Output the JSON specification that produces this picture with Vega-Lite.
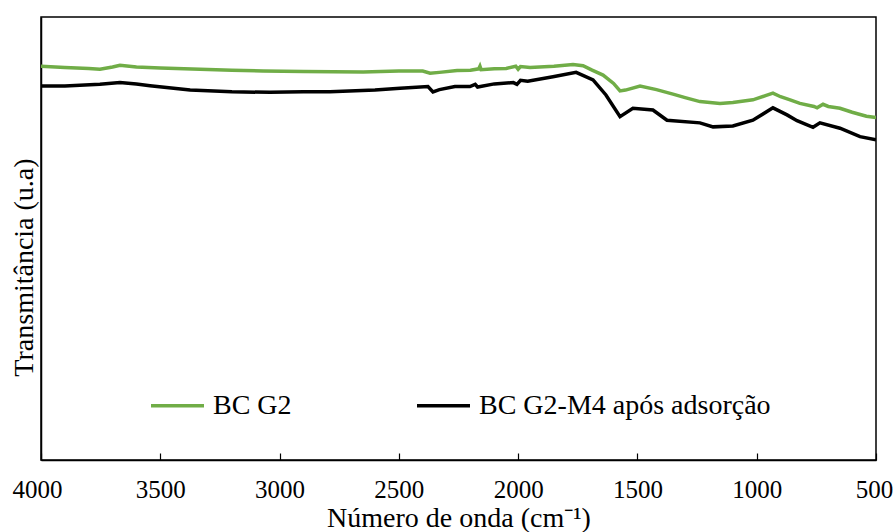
{
  "$schema": "https://vega.github.io/schema/vega-lite/v6.json",
  "width": 835,
  "height": 443,
  "autosize": "none",
  "padding": {"left": 41, "top": 17, "right": 17, "bottom": 72},
  "background": "white",
  "config": {
    "font": "'Liberation Serif', 'Times New Roman', serif",
    "view": {"stroke": "black", "strokeWidth": 1.5}
  },
  "data": {
    "values": [
      {"wn": 4000, "t": 88.9, "s": "BC G2"},
      {"wn": 3900, "t": 88.6, "s": "BC G2"},
      {"wn": 3800, "t": 88.4, "s": "BC G2"},
      {"wn": 3753, "t": 88.2, "s": "BC G2"},
      {"wn": 3700, "t": 88.7, "s": "BC G2"},
      {"wn": 3669, "t": 89.1, "s": "BC G2"},
      {"wn": 3600, "t": 88.7, "s": "BC G2"},
      {"wn": 3500, "t": 88.5, "s": "BC G2"},
      {"wn": 3400, "t": 88.3, "s": "BC G2"},
      {"wn": 3200, "t": 88.0, "s": "BC G2"},
      {"wn": 3069, "t": 87.8, "s": "BC G2"},
      {"wn": 2900, "t": 87.7, "s": "BC G2"},
      {"wn": 2650, "t": 87.6, "s": "BC G2"},
      {"wn": 2500, "t": 87.8, "s": "BC G2"},
      {"wn": 2400, "t": 87.8, "s": "BC G2"},
      {"wn": 2369, "t": 87.3, "s": "BC G2"},
      {"wn": 2330, "t": 87.5, "s": "BC G2"},
      {"wn": 2256, "t": 87.9, "s": "BC G2"},
      {"wn": 2200, "t": 88.0, "s": "BC G2"},
      {"wn": 2165, "t": 88.3, "s": "BC G2"},
      {"wn": 2160, "t": 88.9, "s": "BC G2"},
      {"wn": 2155, "t": 88.1, "s": "BC G2"},
      {"wn": 2100, "t": 88.3, "s": "BC G2"},
      {"wn": 2050, "t": 88.4, "s": "BC G2"},
      {"wn": 2010, "t": 88.9, "s": "BC G2"},
      {"wn": 2000, "t": 88.2, "s": "BC G2"},
      {"wn": 1990, "t": 88.8, "s": "BC G2"},
      {"wn": 1950, "t": 88.6, "s": "BC G2"},
      {"wn": 1850, "t": 88.9, "s": "BC G2"},
      {"wn": 1770, "t": 89.3, "s": "BC G2"},
      {"wn": 1728, "t": 89.0, "s": "BC G2"},
      {"wn": 1690, "t": 88.0, "s": "BC G2"},
      {"wn": 1644, "t": 86.9, "s": "BC G2"},
      {"wn": 1600, "t": 85.0, "s": "BC G2"},
      {"wn": 1573, "t": 83.3, "s": "BC G2"},
      {"wn": 1550, "t": 83.5, "s": "BC G2"},
      {"wn": 1489, "t": 84.4, "s": "BC G2"},
      {"wn": 1420, "t": 83.6, "s": "BC G2"},
      {"wn": 1351, "t": 82.6, "s": "BC G2"},
      {"wn": 1300, "t": 81.8, "s": "BC G2"},
      {"wn": 1238, "t": 80.9, "s": "BC G2"},
      {"wn": 1154, "t": 80.5, "s": "BC G2"},
      {"wn": 1100, "t": 80.7, "s": "BC G2"},
      {"wn": 1016, "t": 81.3, "s": "BC G2"},
      {"wn": 960, "t": 82.3, "s": "BC G2"},
      {"wn": 932, "t": 82.8, "s": "BC G2"},
      {"wn": 900, "t": 82.0, "s": "BC G2"},
      {"wn": 860, "t": 81.3, "s": "BC G2"},
      {"wn": 819, "t": 80.5, "s": "BC G2"},
      {"wn": 760, "t": 79.8, "s": "BC G2"},
      {"wn": 747, "t": 79.5, "s": "BC G2"},
      {"wn": 722, "t": 80.3, "s": "BC G2"},
      {"wn": 700, "t": 79.8, "s": "BC G2"},
      {"wn": 651, "t": 79.4, "s": "BC G2"},
      {"wn": 600, "t": 78.5, "s": "BC G2"},
      {"wn": 540, "t": 77.6, "s": "BC G2"},
      {"wn": 500, "t": 77.3, "s": "BC G2"},
      {"wn": 4000, "t": 84.4, "s": "BC G2-M4 após adsorção"},
      {"wn": 3900, "t": 84.4, "s": "BC G2-M4 após adsorção"},
      {"wn": 3753, "t": 84.8, "s": "BC G2-M4 após adsorção"},
      {"wn": 3669, "t": 85.2, "s": "BC G2-M4 após adsorção"},
      {"wn": 3600, "t": 84.9, "s": "BC G2-M4 após adsorção"},
      {"wn": 3543, "t": 84.5, "s": "BC G2-M4 após adsorção"},
      {"wn": 3375, "t": 83.5, "s": "BC G2-M4 após adsorção"},
      {"wn": 3200, "t": 83.1, "s": "BC G2-M4 após adsorção"},
      {"wn": 3040, "t": 83.0, "s": "BC G2-M4 após adsorção"},
      {"wn": 2900, "t": 83.1, "s": "BC G2-M4 após adsorção"},
      {"wn": 2789, "t": 83.1, "s": "BC G2-M4 após adsorção"},
      {"wn": 2600, "t": 83.5, "s": "BC G2-M4 após adsorção"},
      {"wn": 2495, "t": 83.9, "s": "BC G2-M4 após adsorção"},
      {"wn": 2378, "t": 84.3, "s": "BC G2-M4 após adsorção"},
      {"wn": 2357, "t": 83.1, "s": "BC G2-M4 após adsorção"},
      {"wn": 2330, "t": 83.6, "s": "BC G2-M4 após adsorção"},
      {"wn": 2265, "t": 84.3, "s": "BC G2-M4 após adsorção"},
      {"wn": 2202, "t": 84.3, "s": "BC G2-M4 após adsorção"},
      {"wn": 2180, "t": 84.8, "s": "BC G2-M4 após adsorção"},
      {"wn": 2170, "t": 84.2, "s": "BC G2-M4 após adsorção"},
      {"wn": 2100, "t": 84.9, "s": "BC G2-M4 após adsorção"},
      {"wn": 2020, "t": 85.2, "s": "BC G2-M4 após adsorção"},
      {"wn": 2005, "t": 84.8, "s": "BC G2-M4 após adsorção"},
      {"wn": 1990, "t": 85.7, "s": "BC G2-M4 após adsorção"},
      {"wn": 1960, "t": 85.5, "s": "BC G2-M4 após adsorção"},
      {"wn": 1854, "t": 86.5, "s": "BC G2-M4 após adsorção"},
      {"wn": 1757, "t": 87.5, "s": "BC G2-M4 após adsorção"},
      {"wn": 1686, "t": 85.8, "s": "BC G2-M4 após adsorção"},
      {"wn": 1632, "t": 82.4, "s": "BC G2-M4 após adsorção"},
      {"wn": 1573, "t": 77.5, "s": "BC G2-M4 após adsorção"},
      {"wn": 1519, "t": 79.4, "s": "BC G2-M4 após adsorção"},
      {"wn": 1435, "t": 79.0, "s": "BC G2-M4 após adsorção"},
      {"wn": 1376, "t": 76.7, "s": "BC G2-M4 após adsorção"},
      {"wn": 1238, "t": 76.1, "s": "BC G2-M4 após adsorção"},
      {"wn": 1183, "t": 75.2, "s": "BC G2-M4 após adsorção"},
      {"wn": 1100, "t": 75.4, "s": "BC G2-M4 após adsorção"},
      {"wn": 1016, "t": 76.7, "s": "BC G2-M4 após adsorção"},
      {"wn": 932, "t": 79.5, "s": "BC G2-M4 após adsorção"},
      {"wn": 873, "t": 77.9, "s": "BC G2-M4 após adsorção"},
      {"wn": 831, "t": 76.6, "s": "BC G2-M4 após adsorção"},
      {"wn": 764, "t": 75.1, "s": "BC G2-M4 após adsorção"},
      {"wn": 735, "t": 76.1, "s": "BC G2-M4 após adsorção"},
      {"wn": 651, "t": 74.9, "s": "BC G2-M4 após adsorção"},
      {"wn": 567, "t": 73.0, "s": "BC G2-M4 após adsorção"},
      {"wn": 500, "t": 72.3, "s": "BC G2-M4 após adsorção"}
    ]
  },
  "mark": {"type": "line", "strokeWidth": 3.5, "clip": true},
  "encoding": {
    "x": {
      "field": "wn",
      "type": "quantitative",
      "scale": {"domain": [4000, 500], "nice": false, "zero": false},
      "axis": {
        "title": "Número de onda (cm⁻¹)",
        "values": [4000, 3500, 3000, 2500, 2000, 1500, 1000, 500],
        "format": "d",
        "grid": false,
        "domainColor": "black",
        "domainWidth": 1.5,
        "tickColor": "black",
        "tickSize": -7,
        "tickWidth": 1.2,
        "labelFont": "'Liberation Serif', 'Times New Roman', serif",
        "labelFontSize": 25,
        "labelColor": "black",
        "labelFlush": false,
        "labelOffset": {"expr": "datum.value == 4000 ? -4 : (datum.value == 500 ? -2 : 0)"},
        "labelPadding": 24,
        "labelOverlap": false,
        "titleFont": "'Liberation Serif', 'Times New Roman', serif",
        "titleFontSize": 28,
        "titleFontWeight": "normal",
        "titleColor": "black",
        "titlePadding": 2
      }
    },
    "y": {
      "field": "t",
      "type": "quantitative",
      "scale": {"domain": [0, 100], "nice": false},
      "axis": {
        "title": "Transmitância (u.a)",
        "grid": false,
        "labels": false,
        "ticks": false,
        "domainColor": "black",
        "domainWidth": 1.5,
        "titleFont": "'Liberation Serif', 'Times New Roman', serif",
        "titleFontSize": 28,
        "titleFontWeight": "normal",
        "titleColor": "black",
        "titleX": -17,
        "titleY": 250,
        "titleAngle": -90,
        "titleBaseline": "middle",
        "titleAlign": "center"
      }
    },
    "color": {
      "field": "s",
      "type": "nominal",
      "scale": {"domain": ["BC G2", "BC G2-M4 após adsorção"], "range": ["#70AD47", "#000000"]},
      "legend": {
        "title": null,
        "orient": "none",
        "direction": "horizontal",
        "legendX": 108,
        "legendY": 360,
        "symbolType": "stroke",
        "symbolSize": 2809,
        "symbolStrokeWidth": 3.5,
        "labelFont": "'Liberation Serif', 'Times New Roman', serif",
        "labelFontSize": 28,
        "labelColor": "black",
        "labelOffset": 7,
        "columnPadding": 118,
        "labelLimit": 500
      }
    }
  }
}
